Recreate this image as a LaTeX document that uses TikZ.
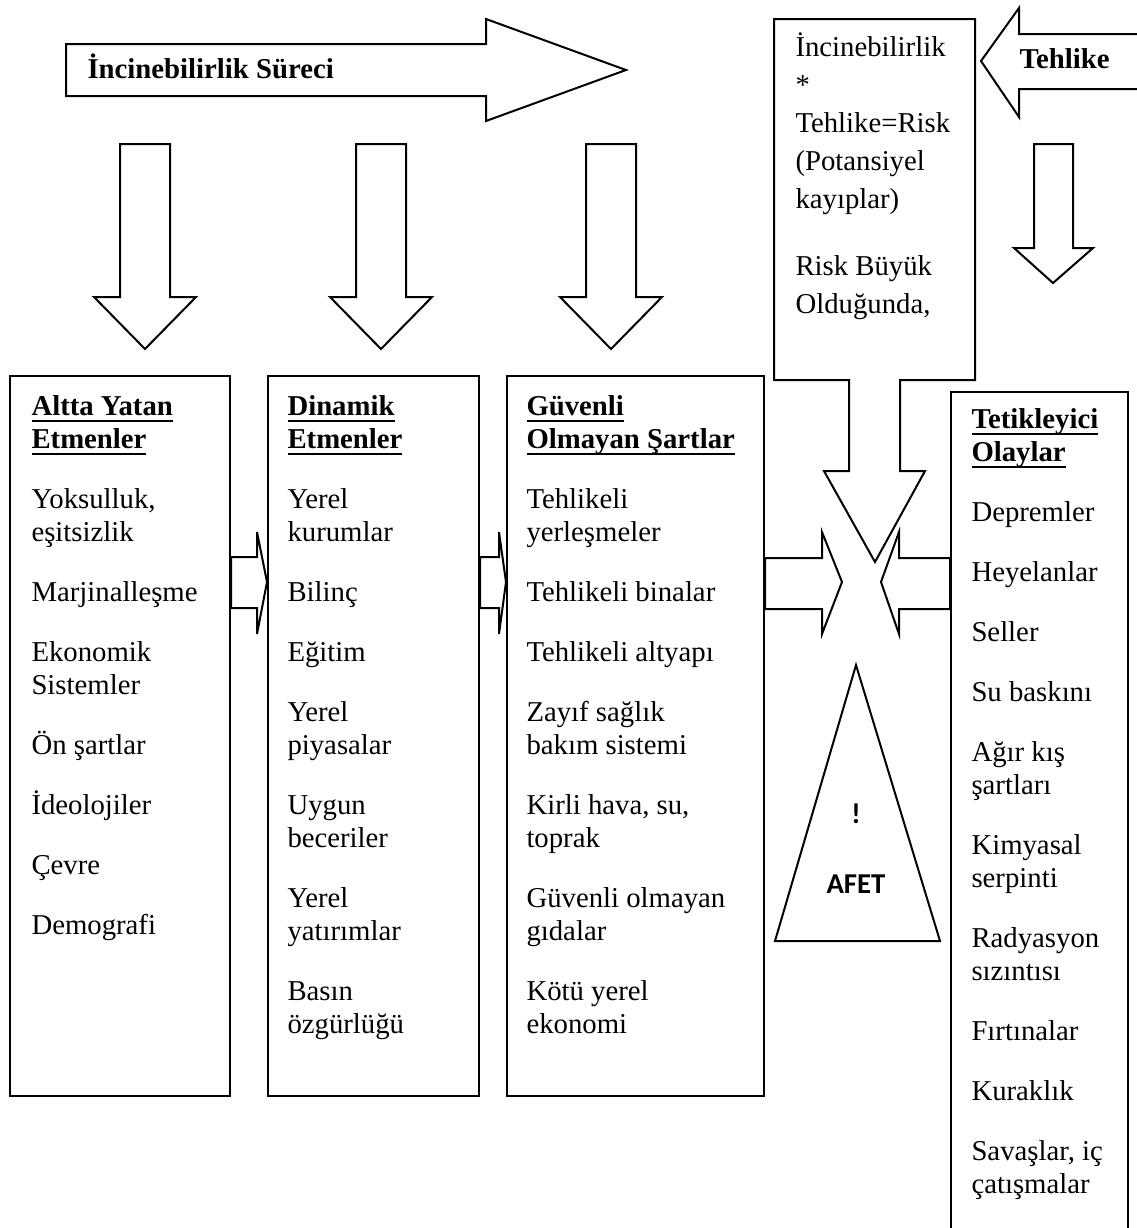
\documentclass[tikz,border=0pt]{standalone}
\usepackage{fontspec}
\setmainfont{Liberation Serif}
\newfontfamily\afetfont{Carlito}
\usetikzlibrary{calc}

\newsavebox{\baslikkutu}
\newcommand{\bosluk}{\\[10.8pt]}
\newcommand{\baslik}[1]{\sbox{\baslikkutu}{\textbf{#1}}\usebox{\baslikkutu}%
    \llap{\rule[-2.6pt]{\wd\baslikkutu}{0.8pt}}}

\begin{document}
\begin{tikzpicture}[x=0.4pt, y=-0.4pt,
    kutu/.style={draw, line width=0.8pt, rectangle, anchor=north west, inner sep=0pt},
    blok/.style={draw, line width=0.8pt, line join=miter, fill=white},
    metin/.style={anchor=base west, inner sep=0pt, text width=110pt, align=flush left,
        font=\fontsize{11.5}{13.2}\selectfont}]
    \useasboundingbox (0,0) rectangle (1137,1228);

    % ust ok ve asagi oklar
    \draw[blok] (66,44) -- (486,44) -- (486,19) -- (626,70) -- (486,121) -- (486,96) -- (66,96) -- cycle;
    \node[metin] (surec) at (87,78) {\textbf{İncinebilirlik Süreci}};
    \foreach \x in {145,381,611}
        \draw[blok] (\x-25,144) -- (\x+25,144) -- (\x+25,297) -- (\x+51,297) -- (\x,349)
            -- (\x-51,297) -- (\x-25,297) -- cycle;

    % tehlike oku
    \draw[blok] (1140,34) -- (1019,34) -- (1019,8) -- (981,61) -- (1019,117) -- (1019,89) -- (1140,89);
    \node[metin] (tehlike) at (1019,68) {\textbf{Tehlike}};
    \draw[blok] (1034,144) -- (1073,144) -- (1073,248) -- (1093,248) -- (1053,283)
        -- (1014,248) -- (1034,248) -- cycle;

    % risk kutusu
    \draw[blok] (774,19) -- (975,19) -- (975,380) -- (900,380) -- (900,471) -- (925,471) -- (875,562)
        -- (824,471) -- (849,471) -- (849,380) -- (774,380) -- cycle;
    \node[metin, font=\fontsize{11.5}{15.2}\selectfont] (risk) at (795,56)
        {İncinebilirlik\\{}*\\ Tehlike=Risk\\ (Potansiyel\\ kayıplar)\\[11.6pt] Risk Büyük\\ Olduğunda,};

    % kutular
    \node[kutu, minimum width=88pt, minimum height=288pt] (altta) at (9,375) {};
    \node[kutu, minimum width=84.4pt, minimum height=288pt] (dinamik) at (267,375) {};
    \node[kutu, minimum width=102.8pt, minimum height=288pt] (guvensiz) at (506,375) {};
    \node[kutu, minimum width=70.8pt, minimum height=339.6pt] (tetik) at (950,391) {};

    \node[metin] (altta metin) at (31,415) {\baslik{Altta Yatan}\\ \baslik{Etmenler}\bosluk
        Yoksulluk,\\ eşitsizlik\bosluk Marjinalleşme\bosluk Ekonomik\\ Sistemler\bosluk
        Ön şartlar\bosluk İdeolojiler\bosluk Çevre\bosluk Demografi};
    \node[metin] (dinamik metin) at (287,415) {\baslik{Dinamik}\\ \baslik{Etmenler}\bosluk
        Yerel\\ kurumlar\bosluk Bilinç\bosluk Eğitim\bosluk Yerel\\ piyasalar\bosluk
        Uygun\\ beceriler\bosluk Yerel\\ yatırımlar\bosluk Basın\\ özgürlüğü};
    \node[metin] (guvensiz metin) at (526,415) {\baslik{Güvenli}\\ \baslik{Olmayan Şartlar}\bosluk
        Tehlikeli\\ yerleşmeler\bosluk Tehlikeli binalar\bosluk Tehlikeli altyapı\bosluk
        Zayıf sağlık\\ bakım sistemi\bosluk Kirli hava, su,\\ toprak\bosluk
        Güvenli olmayan\\ gıdalar\bosluk Kötü yerel\\ ekonomi};
    \node[metin] (tetik metin) at (971,428) {\baslik{Tetikleyici}\\ \baslik{Olaylar}\bosluk
        Depremler\bosluk Heyelanlar\bosluk Seller\bosluk Su baskını\bosluk Ağır kış\\ şartları\bosluk
        Kimyasal\\ serpinti\bosluk Radyasyon\\ sızıntısı\bosluk Fırtınalar\bosluk Kuraklık\bosluk
        Savaşlar, iç\\ çatışmalar};

    % kutular arasi oklar
    \draw[blok] (altta.east |- 0,557) -- (257,557) -- (257,532) -- (dinamik.west |- 0,582)
        -- (257,634) -- (257,608) -- (altta.east |- 0,608) -- cycle;
    \draw[blok] (dinamik.east |- 0,557) -- (499,557) -- (499,532) -- (guvensiz.west |- 0,582)
        -- (499,634) -- (499,608) -- (dinamik.east |- 0,608) -- cycle;
    \coordinate (sol uc) at (842,582);
    \coordinate (sag uc) at (881,582);
    \draw[blok] (guvensiz.east |- 0,558) -- (822,558) -- (822,532) -- (sol uc)
        -- (822,634) -- (822,609) -- (guvensiz.east |- 0,609) -- cycle;
    \draw[blok] (tetik.west |- 0,558) -- (899,558) -- (899,532) -- (sag uc)
        -- (899,634) -- (899,609) -- (tetik.west |- 0,609) -- cycle;

    % afet
    \draw[line width=0.8pt] (856,665) -- (940,941) -- (775,941) -- cycle;
    \node[font=\afetfont\bfseries\fontsize{11.5}{13}\selectfont] (unlem) at (856,814) {!};
    \node[font=\afetfont\bfseries\fontsize{11.5}{13}\selectfont] (afet) at (856,884) {AFET};
\end{tikzpicture}
\end{document}
